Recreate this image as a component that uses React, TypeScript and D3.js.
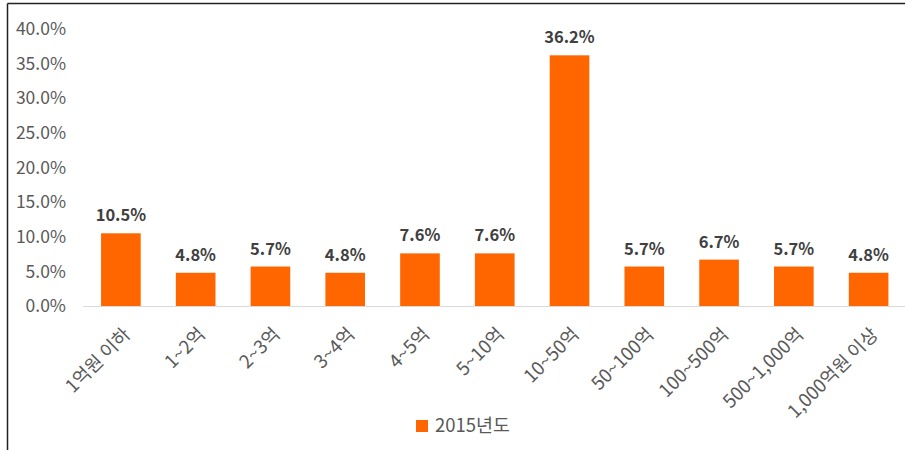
import React, { useEffect, useRef } from 'react'
import * as d3 from 'd3'

const categories = ['1억원 이하', '1~2억', '2~3억', '3~4억', '4~5억', '5~10억', '10~50억', '50~100억', '100~500억', '500~1,000억', '1,000억원 이상']
const values = [10.5, 4.8, 5.7, 4.8, 7.6, 7.6, 36.2, 5.7, 6.7, 5.7, 4.8]
const yTicks = [0, 5, 10, 15, 20, 25, 30, 35, 40]
const seriesName = '2015년도'

const W = 905
const H = 450
const FONT = '"Noto Sans CJK KR", "Noto Sans", sans-serif'
const ORANGE = '#ff6600'

export default function App () {
  const ref = useRef<SVGSVGElement>(null)

  useEffect(() => {
    const svg = d3.select(ref.current)
    svg.selectAll('*').remove()

    // frame (top + left border only, the picture is cut on the other sides)
    svg.append('line').attr('x1', 7.5).attr('x2', W).attr('y1', 3.5).attr('y2', 3.5)
      .attr('stroke', '#222').attr('stroke-width', 1.5)
    svg.append('line').attr('x1', 7.5).attr('x2', 7.5).attr('y1', 3.5).attr('y2', H)
      .attr('stroke', '#222').attr('stroke-width', 1.5)

    const x = d3.scaleBand<string>().domain(categories).range([83.5, 906]).paddingInner(0.47).paddingOuter(0.235)
    const y = d3.scaleLinear().domain([0, 40]).range([306, 29])

    // y tick labels
    svg.append('g').selectAll('text').data(yTicks).join('text')
      .attr('x', 66).attr('y', d => y(d)).attr('dy', '0.35em')
      .attr('text-anchor', 'end')
      .attr('font-family', FONT).attr('font-size', 17.5).attr('fill', '#595959')
      .text(d => d3.format('.1f')(d) + '%')

    // bars
    svg.append('g').selectAll('rect').data(values).join('rect')
      .attr('x', (d, i) => x(categories[i])!)
      .attr('width', x.bandwidth())
      .attr('y', d => y(d))
      .attr('height', d => y(0) - y(d))
      .attr('fill', ORANGE)

    // baseline
    svg.append('line').attr('x1', 83).attr('x2', W).attr('y1', y(0) + 0.5).attr('y2', y(0) + 0.5)
      .attr('stroke', '#d9d9d9').attr('stroke-width', 1)

    // data labels
    svg.append('g').selectAll('text').data(values).join('text')
      .attr('x', (d, i) => x(categories[i])! + x.bandwidth() / 2)
      .attr('y', d => y(d) - 12)
      .attr('text-anchor', 'middle')
      .attr('font-family', FONT).attr('font-size', 16.5).attr('font-weight', 'bold').attr('fill', '#404040')
      .text(d => d3.format('.1f')(d) + '%')

    // x labels rotated
    svg.append('g').selectAll('text').data(categories).join('text')
      .attr('transform', d => `translate(${x(d)! + x.bandwidth() / 2 + 6},${y(0) + 25}) rotate(-45)`)
      .attr('text-anchor', 'end')
      .attr('dy', '0.35em')
      .attr('font-family', FONT).attr('font-size', 18.5).attr('fill', '#595959')
      .text(d => d)

    // legend
    const lg = svg.append('g').attr('transform', 'translate(416,420)')
    lg.append('rect').attr('width', 12).attr('height', 12).attr('fill', ORANGE)
    lg.append('text').attr('x', 19).attr('y', 6).attr('dy', '0.35em')
      .attr('font-family', FONT).attr('font-size', 18.5).attr('fill', '#595959')
      .text(seriesName)
  }, [])

  return (
    <svg ref={ref} width={W} height={H} style={{ position: 'absolute', left: 0, top: 0, background: '#fff' }} />
  )
}
